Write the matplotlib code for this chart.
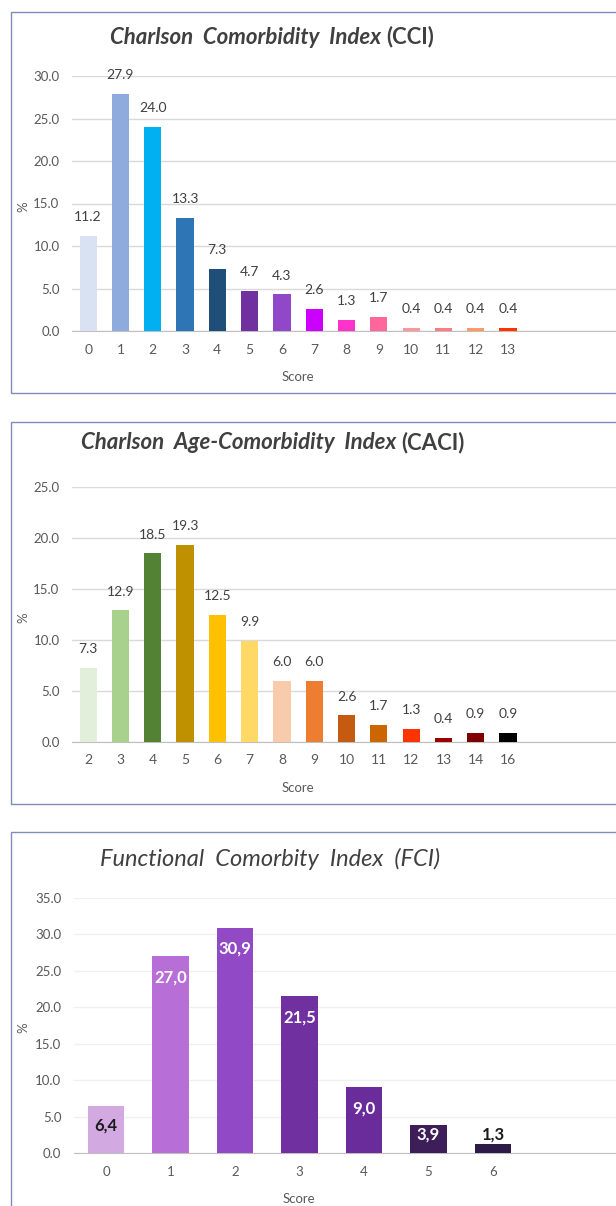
import matplotlib
matplotlib.use("Agg")
import matplotlib.pyplot as plt
from matplotlib.patches import Rectangle

plt.rcParams['font.family'] = ['Lato', 'DejaVu Sans']

W, H = 616, 1206

# --- data ---
cci_scores = ['0', '1', '2', '3', '4', '5', '6', '7', '8', '9', '10', '11', '12', '13']
cci_values = [11.2, 27.9, 24.0, 13.3, 7.3, 4.7, 4.3, 2.6, 1.3, 1.7, 0.4, 0.4, 0.4, 0.4]
cci_colors = ['#D9E2F3', '#8FAADC', '#00B0F0', '#2E75B6', '#1F4E79', '#7030A0', '#9148C8',
              '#CC00FF', '#FF33CC', '#FF6699', '#FF9999', '#FF7C80', '#FF9966', '#FF3300']

caci_scores = ['2', '3', '4', '5', '6', '7', '8', '9', '10', '11', '12', '13', '14', '16']
caci_values = [7.3, 12.9, 18.5, 19.3, 12.5, 9.9, 6.0, 6.0, 2.6, 1.7, 1.3, 0.4, 0.9, 0.9]
caci_colors = ['#E2EFDA', '#A9D18E', '#548235', '#BF9000', '#FFC000', '#FFD966', '#F8CBAD',
               '#ED7D31', '#C55A11', '#CC6600', '#FF3300', '#990000', '#800000', '#000000']

fci_scores = ['0', '1', '2', '3', '4', '5', '6']
fci_values = [6.4, 27.0, 30.9, 21.5, 9.0, 3.9, 1.3]
fci_colors = ['#D3A9E1', '#B76ED6', '#9149C6', '#7130A0', '#6A2C9A', '#3D1E58', '#2D1A47']

TXT = '#595959'
TITLE = '#404040'
FS = 9.5

fig = plt.figure(figsize=(W / 100, H / 100), dpi=100)


def px_axes(left, top, right, bottom):
    return fig.add_axes([left / W, 1 - bottom / H, (right - left) / W, (bottom - top) / H])


def ftext(x, y, s, **kw):
    fig.text(x / W, 1 - y / H, s, **kw)


def border(top, bottom):
    fig.patches.append(Rectangle((11 / W, 1 - bottom / H), 700 / W, (bottom - top) / H,
                                 transform=fig.transFigure, fill=False,
                                 edgecolor='#7F8CB8', lw=1.0))


def style_axes(ax, ymax, step, nslots, gridcol):
    ax.set_ylim(0, ymax)
    ax.set_xlim(-0.5, nslots - 0.5)
    ax.set_yticks([i * step for i in range(int(round(ymax / step)) + 1)])
    ax.set_yticklabels(['%.1f' % t for t in ax.get_yticks()], color=TXT, fontsize=FS)
    for s in ['top', 'right', 'left']:
        ax.spines[s].set_visible(False)
    ax.spines['bottom'].set_color('#BFBFBF')
    ax.tick_params(axis='both', length=0, pad=9)
    ax.tick_params(axis='x', pad=9)
    ax.yaxis.grid(True, color=gridcol, lw=1)
    ax.set_axisbelow(True)
    ax.patch.set_alpha(0)


def simple_panel(top, bottom, ax_top, ax_bottom, ymax, scores, values, colors, y_title, title_it, title_rest, title_x, y_score):
    border(top, bottom)
    ax = px_axes(72, ax_top, 72 + 18 * 32.3, ax_bottom)
    x = range(len(scores))
    ax.bar(x, values, width=0.53, color=colors, zorder=3)
    for xi, v in zip(x, values):
        ax.annotate('%.1f' % v, (xi, v), xytext=(0, 13.5), textcoords='offset points',
                    ha='center', va='center', fontsize=FS + 0.5, color=TITLE)
    style_axes(ax, ymax, 5, 18, '#D9D9D9')
    ax.set_xticks(list(x))
    ax.set_xticklabels(scores, color=TXT, fontsize=FS + 0.5)
    ftext(title_x, y_title, title_it, ha='right', va='center', fontsize=16,
          fontstyle='italic', fontweight='bold', color=TITLE)
    ftext(title_x + 5, y_title, title_rest, ha='left', va='center', fontsize=16,
          fontweight='bold', color=TITLE)
    ftext(23, (ax_top + ax_bottom) / 2 + 3, '%', rotation=90, ha='center', va='center',
          fontsize=FS, color=TXT)
    ftext(298, y_score, 'Score', ha='center', va='center', fontsize=FS, color=TXT)
    return ax


simple_panel(12, 393, 76, 331, 30, cci_scores, cci_values, cci_colors, 37,
             'Charlson  Comorbidity  Index', '(CCI)', 381, 377)
simple_panel(422, 804, 487, 742, 25, caci_scores, caci_values, caci_colors, 443,
             'Charlson  Age-Comorbidity  Index', '(CACI)', 396, 788)

# --- FCI panel ---
border(832, 1300)
ax3 = px_axes(73.75, 898, 73.75 + 9 * 64.5, 1153)
x3 = range(len(fci_scores))
ax3.bar(x3, fci_values, width=0.56, color=fci_colors, zorder=3)
px_per_unit = 255 / 35.0
for xi, v, c in zip(x3, fci_values, fci_colors):
    h = v * px_per_unit
    rgb = matplotlib.colors.to_rgb(c)
    light = (0.299 * rgb[0] + 0.587 * rgb[1] + 0.114 * rgb[2]) > 0.6
    if h >= 20:
        off = -min(21, h / 2 - 4)
        col = '#1A1A1A' if light else 'white'
    else:
        off = 9
        col = '#1A1A1A'
    ax3.annotate(('%.1f' % v).replace('.', ','), (xi, v), xytext=(0, off * 0.72),
                 textcoords='offset points', ha='center', va='center',
                 fontsize=12, fontweight='bold', color=col, zorder=4)
style_axes(ax3, 35, 5, 9, '#F0F0F0')
ax3.set_xticks(list(x3))
ax3.set_xticklabels(fci_scores, color=TXT, fontsize=FS)
ftext(270, 859, 'Functional  Comorbity  Index  (FCI)', ha='center', va='center', fontsize=17,
      fontstyle='italic', fontweight='normal', color=TITLE)
ftext(23, 1028, '%', rotation=90, ha='center', va='center', fontsize=FS, color=TXT)
ftext(299, 1199, 'Score', ha='center', va='center', fontsize=FS, color=TXT)

fig.savefig('out.png', dpi=100)
